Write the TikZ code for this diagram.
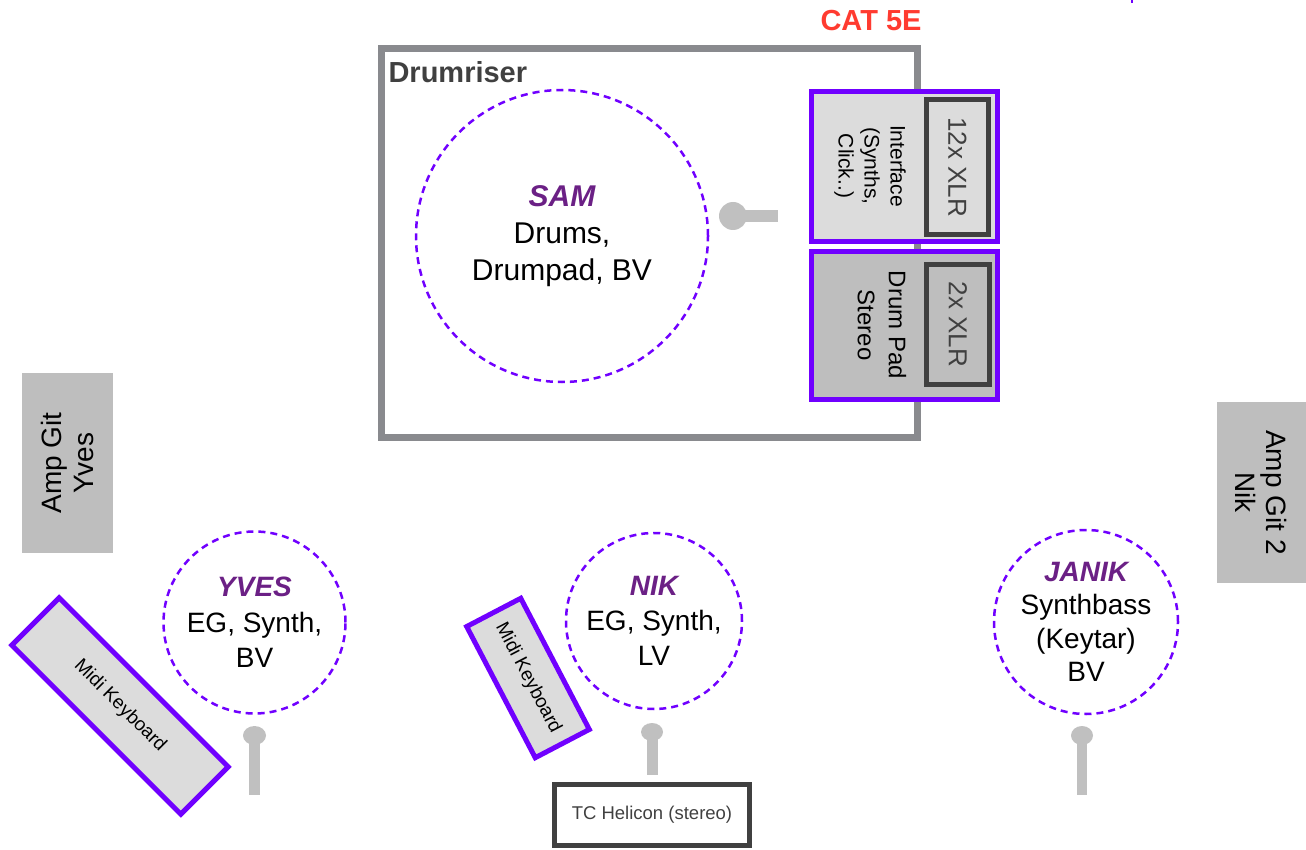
\documentclass[tikz,border=0pt]{standalone}
\usepackage{fontspec}
\setmainfont{Liberation Sans}
\usetikzlibrary{shapes.geometric}
\definecolor{vio}{HTML}{7000FF}
\definecolor{namec}{HTML}{6B2085}
\definecolor{riser}{HTML}{898A8E}
\definecolor{darkb}{HTML}{404040}
\definecolor{lightf}{HTML}{DCDCDC}
\definecolor{midf}{HTML}{BEBEBE}
\definecolor{catred}{HTML}{FF3B30}
\definecolor{micc}{HTML}{C0C0C0}
\tikzset{
  fs/.style={font=\fontsize{#1}{#1*1.2}\selectfont},
  person/.style={circle, draw=vio, line width=2.5pt, dash pattern=on 7pt off 5pt, align=center, inner sep=0pt},
  pname/.style={},
  devbox/.style={draw=vio, line width=5pt, inner sep=0pt},
  xlrbox/.style={draw=darkb, line width=5pt, inner sep=0pt, text=darkb},
  ampbox/.style={fill=midf, inner sep=0pt, align=center},
  mic/.style={fill=micc, draw=none},
}
\newcommand{\pn}[1]{\textcolor{namec}{\bfseries\itshape #1}}
\begin{document}
\begin{tikzpicture}[x=1pt,y=-1pt]
\useasboundingbox (0,0) rectangle (1306,850);
% drumriser
\node[draw=riser, line width=7pt, minimum width=536pt, minimum height=389pt, inner sep=0pt] (riser) at (649.5,243) {};
\node[anchor=base west, text=darkb, font=\fontsize{29}{34}\selectfont\bfseries] (risertxt) at (385,83) {Drumriser};
\node[text=catred, font=\fontsize{29}{34}\selectfont\bfseries] (cat) at (871,21) {CAT 5E};
\draw[vio, line width=2pt] (1132,0) -- (1132,3);
% SAM
\node[person, minimum size=292pt, font=\fontsize{30}{37}\selectfont] (sam) at (562,236) {\pn{SAM}\\Drums,\\Drumpad, BV};
\fill[micc] (733,210) rectangle (778,222);
\fill[micc] (733,216) circle (14);
% Interface
\node[devbox, fill=lightf, minimum width=186pt, minimum height=150pt] (iface) at (904.5,166.5) {};
\node[xlrbox, fill=lightf, rotate=-90, minimum width=135pt, minimum height=62pt, font=\fontsize{26}{30}\selectfont] (xlr12) at (957.5,167) {12x XLR};
\node[rotate=-90, align=center, font=\fontsize{21}{26}\selectfont] (ifacetxt) at (870,166) {Interface\\(Synths,\\Click..)};
% Drum pad
\node[devbox, fill=midf, minimum width=186pt, minimum height=148pt] (dpad) at (904.5,325.5) {};
\node[xlrbox, fill=midf, rotate=-90, minimum width=120pt, minimum height=63pt, font=\fontsize{26}{30}\selectfont] (xlr2) at (958,324.5) {2x XLR};
\node[rotate=-90, align=center, font=\fontsize{24}{31}\selectfont] (dpadtxt) at (882,325) {Drum Pad\\Stereo};
% Amps
\node[ampbox, rotate=90, minimum width=180pt, minimum height=91pt, font=\fontsize{28}{32}\selectfont] (ampy) at (67.5,463) {Amp Git\\Yves};
\node[ampbox, rotate=-90, minimum width=181pt, minimum height=89pt, font=\fontsize{28}{31}\selectfont] (ampn) at (1261.5,492.5) {Amp Git 2\\Nik};
% YVES
\node[person, minimum size=182pt, font=\fontsize{28}{35.5}\selectfont] (yves) at (254.5,622.5) {\pn{YVES}\\EG, Synth,\\BV};
\node[devbox, fill=lightf, rotate=-45, minimum width=239pt, minimum height=67pt, font=\fontsize{19}{22}\selectfont] (midiy) at (120,706) {Midi Keyboard};
\fill[micc] (249,740) rectangle (260,795);
\fill[micc] (254.5,735.5) ellipse (11.5 and 9.5);
% NIK
\node[person, minimum size=176pt, font=\fontsize{28}{35}\selectfont] (nik) at (654,621) {\pn{NIK}\\EG, Synth,\\LV};
\node[devbox, fill=lightf, rotate=-62.4, minimum width=148pt, minimum height=61pt, font=\fontsize{19}{22}\selectfont] (midin) at (528,678) {Midi Keyboard};
\fill[micc] (647,738) rectangle (658,775);
\fill[micc] (652,732) ellipse (11 and 9);
\node[draw=darkb, line width=5pt, minimum width=195pt, minimum height=61pt, inner sep=0pt, text=darkb, font=\fontsize{18.5}{22}\selectfont] (tc) at (652,815) {TC Helicon (stereo)};
% JANIK
\node[person, minimum size=184pt, font=\fontsize{28}{33.5}\selectfont] (janik) at (1086,622) {\pn{JANIK}\\Synthbass\\(Keytar)\\BV};
\fill[micc] (1077,740) rectangle (1087,795);
\fill[micc] (1082,735.5) ellipse (11 and 9.5);
\end{tikzpicture}
\end{document}
